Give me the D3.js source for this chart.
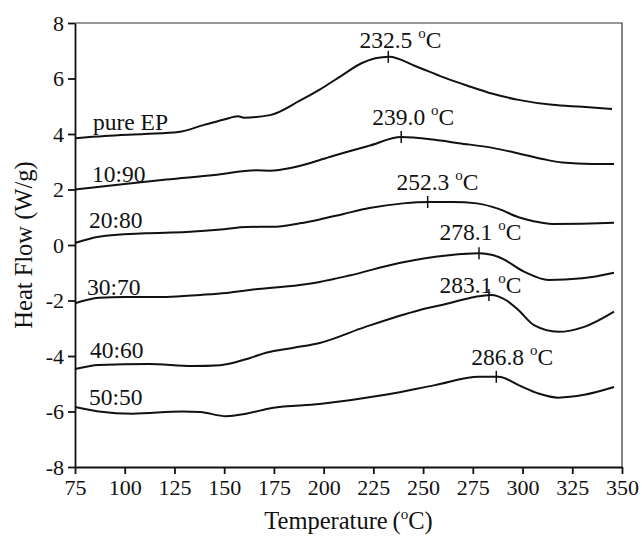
<!DOCTYPE html>
<html>
<head>
<meta charset="utf-8">
<script src="https://cdn.jsdelivr.net/npm/d3@7"></script>
<style>
  body { margin: 0; background: #fff; }
  text { font-family: "Liberation Serif", "Times New Roman", serif; fill: #111; }
</style>
</head>
<body>
<div id="chart"></div>
<script>
// DSC curves: [temperature, heat flow]
var pureEP = [[75,3.85],[90,3.93],[110,4.0],[127,4.07],[140,4.33],[150,4.52],[157,4.64],[160,4.59],[173,4.68],[188,5.2],[198,5.6],[210,6.15],[219,6.55],[233,6.78],[246,6.45],[260,6.05],[272,5.75],[285,5.45],[298,5.23],[315,5.05],[330,4.98],[345,4.9]];
var s1090 = [[75,2.0],[100,2.2],[121,2.36],[145,2.52],[166,2.69],[173,2.68],[185,2.8],[203,3.17],[212,3.36],[223,3.58],[239,3.89],[255,3.8],[268,3.67],[285,3.5],[298,3.3],[310,3.1],[320,2.97],[335,2.92],[346,2.92]];
var s2080 = [[75,0.07],[87,0.3],[110,0.42],[131,0.47],[150,0.57],[161,0.65],[176,0.66],[188,0.78],[198,0.92],[210,1.12],[223,1.33],[240,1.5],[253,1.55],[265,1.55],[277,1.5],[288,1.3],[298,1.0],[306,0.85],[315,0.76],[330,0.77],[346,0.8]];
var s3070 = [[75,-2.1],[87,-1.9],[100,-1.87],[121,-1.87],[138,-1.8],[151,-1.73],[163,-1.62],[188,-1.44],[198,-1.33],[213,-1.1],[238,-0.65],[263,-0.37],[278,-0.3],[288,-0.43],[301,-0.97],[313,-1.26],[330,-1.2],[346,-1.0]];
var s4060 = [[75,-4.47],[87,-4.32],[112,-4.29],[134,-4.36],[148,-4.33],[163,-4.07],[171,-3.88],[185,-3.7],[198,-3.53],[221,-2.95],[248,-2.35],[263,-2.1],[276,-1.87],[284,-1.8],[292,-2.0],[298,-2.35],[306,-2.9],[318,-3.13],[331,-2.95],[346,-2.4]];
var s5050 = [[75,-5.84],[87,-6.0],[104,-6.08],[129,-6.0],[138,-6.02],[151,-6.17],[161,-6.08],[174,-5.87],[198,-5.73],[231,-5.4],[256,-5.05],[278,-4.75],[288,-4.75],[298,-5.05],[308,-5.35],[318,-5.5],[331,-5.4],[346,-5.12]];

var seriesNames = ["pure EP", "10:90", "20:80", "30:70", "40:60", "50:50"];
var seriesData = [pureEP, s1090, s2080, s3070, s4060, s5050];
// where each series name sits [T, value]
var nameAt = [[84,4.14],[83.5,2.27],[82,0.61],[81,-1.8],[82.5,-4.07],[82,-5.77]];

// peak temperatures, heat flow at peak, and where the peak label sits
var peakT = [232.5, 239.0, 252.3, 278.1, 283.1, 286.8];
var peakV = [6.78, 3.89, 1.55, -0.3, -1.8, -4.75];
var peakText = ["232.5", "239.0", "252.3", "278.1", "283.1", "286.8"];
var peakLabelAt = [[218,7.1],[224.5,4.32],[236.6,1.98],[258.2,0.18],[258.2,-1.73],[274.2,-4.32]];

var xTicks = [75,100,125,150,175,200,225,250,275,300,325,350];
var yTicks = [-8,-6,-4,-2,0,2,4,6,8];

const margin = ({ top: 23, right: 20, bottom: 69, left: 75 });
const width = 642, height = 536;

var svg = d3.select("#chart").append("svg")
    .attr("width", width)
    .attr("height", height);

var x = d3.scaleLinear().domain([75, 350]).range([margin.left, width - margin.right]);
var y = d3.scaleLinear().domain([-8, 8]).range([height - margin.bottom, margin.top]);

// frame top and right
svg.append("path")
    .attr("d", `M${x(75)},${y(8)}H${x(350)}V${y(-8)}`)
    .attr("fill", "none")
    .attr("stroke", "#333")
    .attr("stroke-width", 1.2);

var xAxis = svg.append("g")
    .attr("transform", `translate(0,${y(-8)})`)
    .call(d3.axisBottom(x).tickValues(xTicks).tickSize(7).tickSizeOuter(0).tickPadding(5));

var yAxis = svg.append("g")
    .attr("transform", `translate(${x(75)},0)`)
    .call(d3.axisLeft(y).tickValues(yTicks).tickFormat(d => String(d)).tickSize(7).tickSizeOuter(0).tickPadding(4));

[xAxis, yAxis].forEach(function(g) {
    g.attr("font-family", "Liberation Serif");
    g.selectAll("path, line").attr("stroke", "#111").attr("stroke-width", 1.8);
    g.selectAll("text").attr("font-size", 22).attr("fill", "#111");
});
yAxis.selectAll("text").attr("dy", "0.34em");

var line = d3.line()
    .x(d => x(d[0]))
    .y(d => y(d[1]))
    .curve(d3.curveMonotoneX);

svg.append("g").selectAll("path")
    .data(seriesData)
    .enter()
    .append("path")
    .attr("d", line)
    .attr("fill", "none")
    .attr("stroke", "#111")
    .attr("stroke-width", 2);

svg.append("g").selectAll("text")
    .data(seriesNames)
    .enter()
    .append("text")
    .attr("x", (d, i) => x(nameAt[i][0]))
    .attr("y", (d, i) => y(nameAt[i][1]))
    .attr("font-size", 23.5)
    .text(d => d);

// peak markers
svg.append("g").selectAll("line")
    .data(peakT)
    .enter()
    .append("line")
    .attr("x1", d => x(d))
    .attr("x2", d => x(d))
    .attr("y1", (d, i) => y(peakV[i]) - 6)
    .attr("y2", (d, i) => y(peakV[i]) + 6)
    .attr("stroke", "#111")
    .attr("stroke-width", 1.5);

var pl = svg.append("g").selectAll("text")
    .data(peakText)
    .enter()
    .append("text")
    .attr("x", (d, i) => x(peakLabelAt[i][0]))
    .attr("y", (d, i) => y(peakLabelAt[i][1]))
    .attr("font-size", 23.5);
pl.append("tspan").text(d => d + " ");
pl.append("tspan").attr("font-size", 15).attr("dy", -10).text("o");
pl.append("tspan").attr("dy", 10).text("C");

// axis titles
var xt = svg.append("text")
    .attr("x", (x(75) + x(350)) / 2)
    .attr("y", 529)
    .attr("text-anchor", "middle")
    .attr("font-size", 24.5);
xt.append("tspan").text("Temperature\u2009(");
xt.append("tspan").attr("font-size", 15).attr("dy", -10).text("o");
xt.append("tspan").attr("dy", 10).text("C)");

svg.append("text")
    .attr("transform", `translate(32,${(y(8) + y(-8)) / 2}) rotate(-90)`)
    .attr("text-anchor", "middle")
    .attr("font-size", 24.5)
    .text("Heat Flow (W/g)");
</script>
</body>
</html>
